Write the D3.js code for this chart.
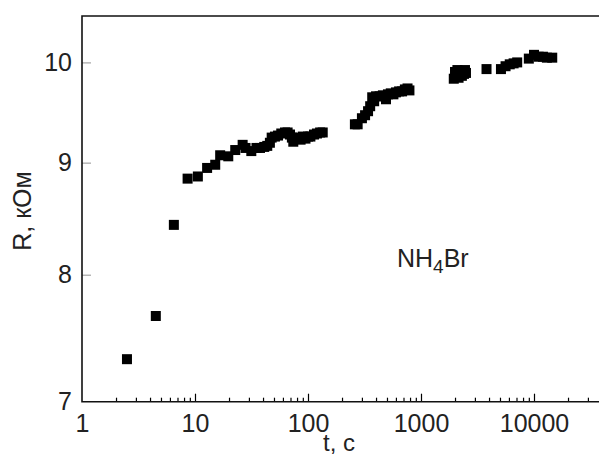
<!DOCTYPE html>
<html>
<head>
<meta charset="utf-8">
<script src="https://cdn.jsdelivr.net/npm/d3@7"></script>
<style>
  body { margin: 0; background: #fff; }
  text { font-family: "Liberation Sans", Arial, sans-serif; fill: #222; }
</style>
</head>
<body>
<script>
// time, s (log) and resistance, kOhm (log)
let times = [2.5, 4.5, 6.5, 8.6, 10.6, 12.8, 15.1, 16.7, 19.7, 22.7, 26.4, 28, 31.5, 35, 37.6, 41, 43.6, 46, 47.7, 51,
  54.3, 58, 62.6, 66, 69.3, 72, 74.1, 78, 82, 86, 90, 95, 100, 105, 113, 120, 128, 135,
  260, 275, 300, 320, 340, 355, 370, 385, 400, 430, 460, 490, 510, 540, 570, 600, 640, 680, 720, 760, 790,
  1950, 2000, 2050, 2100, 2150, 2200, 2250, 2300, 2350, 2400, 2450, 2500,
  3800, 5100, 5600, 6100, 6600, 7100, 9000, 10000, 11000, 12000, 13000, 14500]
let resist = [7.32, 7.66, 8.43, 8.85, 8.87, 8.95, 8.98, 9.07, 9.06, 9.12, 9.17, 9.14, 9.11, 9.14, 9.14, 9.15, 9.16, 9.19, 9.24, 9.25,
  9.26, 9.28, 9.29, 9.29, 9.27, 9.24, 9.20, 9.24, 9.23, 9.22, 9.25, 9.23, 9.25, 9.25, 9.27, 9.28, 9.29, 9.29,
  9.37, 9.37, 9.43, 9.46, 9.50, 9.55, 9.64, 9.60, 9.65, 9.65, 9.66, 9.62, 9.67, 9.68, 9.67, 9.69, 9.70, 9.70, 9.72, 9.73, 9.71,
  9.83, 9.90, 9.86, 9.92, 9.84, 9.89, 9.91, 9.86, 9.90, 9.88, 9.92, 9.89,
  9.93, 9.93, 9.96, 9.98, 9.99, 10.00, 10.04, 10.08, 10.06, 10.06, 10.05, 10.05]
let xTicks = [1, 10, 100, 1000, 10000]
let yTicks = [7, 8, 9, 10]

let width = 599, height = 458
let margin = {top: 16, bottom: 56.3, left: 82}

let svg = d3.select('body').append('svg').attr('width', width).attr('height', height)

let xScale = d3.scaleLog().domain([1, 40000]).range([margin.left, margin.left + 113 * Math.log10(40000)])
let yScale = d3.scaleLog().domain([7, 10.5]).range([height - margin.bottom, margin.top])
let y0 = height - margin.bottom

// minor ticks on x
let minor = []
for (let d = 1; d < 40000; d *= 10) for (let k = 2; k < 10; k++) if (d * k < 40000) minor.push(d * k)

let xAxis = svg.append('g').attr('transform', `translate(0,${y0})`)
  .call(d3.axisBottom(xScale).tickValues(xTicks).tickFormat(d3.format('d')).tickSize(-8).tickPadding(12))
xAxis.selectAll('.tick').filter(d => d === 1).select('line').remove()
svg.append('g').attr('transform', `translate(0,${y0})`)
  .call(d3.axisBottom(xScale).tickValues(minor).tickFormat('').tickSize(-4))
  .call(g => g.select('.domain').remove())

let yAxis = svg.append('g').attr('transform', `translate(${margin.left},0)`)
  .call(d3.axisLeft(yScale).tickValues(yTicks).tickFormat(d3.format('d')).tickSize(-9).tickPadding(10))
yAxis.selectAll('.tick line').attr('stroke', '#777').attr('stroke-width', 0.8)
yAxis.selectAll('.tick').filter(d => d === 7).select('line').remove()

svg.selectAll('.domain').remove()
svg.selectAll('.tick text').style('font-size', '25px').attr('fill', '#222')
xAxis.selectAll('.tick text').attr('dy', '0.72em')
svg.selectAll('g .tick line').filter(function () { return !this.getAttribute('stroke-width') }).attr('stroke-width', 1.2)

// frame: left, top, bottom
svg.append('path')
  .attr('d', `M${width},${margin.top}H${margin.left}V${y0}H${width}`)
  .attr('fill', 'none').attr('stroke', '#111').attr('stroke-width', 1.6)

let data = times.map((t, i) => ({t: t, r: resist[i]}))
let s = 10
svg.selectAll('rect.pt').data(data).enter().append('rect').attr('class', 'pt')
  .attr('x', d => xScale(d.t) - s / 2).attr('y', d => yScale(d.r) - s / 2)
  .attr('width', s).attr('height', s).attr('fill', '#000')

svg.append('text').attr('x', 339).attr('y', 451).text('t, c')
  .style('font-size', '24px').style('text-anchor', 'middle')
svg.append('text').attr('transform', 'translate(31,211) rotate(-90)').text('R, кОм')
  .style('font-size', '25px').style('text-anchor', 'middle')

let lbl = svg.append('text').attr('x', 397).attr('y', 267).style('font-size', '25px')
lbl.append('tspan').text('NH')
lbl.append('tspan').text('4').attr('dy', 6).style('font-size', '19px')
lbl.append('tspan').text('Br').attr('dy', -6)
</script>
</body>
</html>
